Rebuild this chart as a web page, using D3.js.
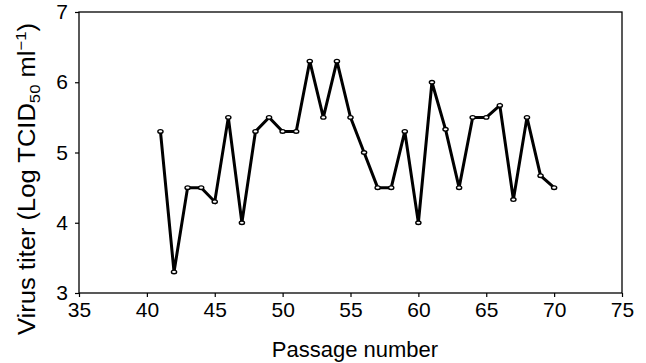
<!DOCTYPE html>
<html>
<head>
<meta charset="utf-8">
<script src="https://cdn.jsdelivr.net/npm/d3@7"></script>
<style>
  body { margin: 0; background: #fff; }
  text { font-family: "Liberation Sans", Arial, Helvetica, sans-serif; fill: #000; }
</style>
</head>
<body>
<div id="chart"></div>
<script>
// passage numbers and virus titers
var passages = [41, 42, 43, 44, 45, 46, 47, 48, 49, 50,
                51, 52, 53, 54, 55, 56, 57, 58, 59, 60,
                61, 62, 63, 64, 65, 66, 67, 68, 69, 70];
var titers = [5.3, 3.3, 4.5, 4.5, 4.3, 5.5, 4.0, 5.3, 5.5, 5.3,
              5.3, 6.3, 5.5, 6.3, 5.5, 5.0, 4.5, 4.5, 5.3, 4.0,
              6.0, 5.33, 4.5, 5.5, 5.5, 5.67, 4.33, 5.5, 4.67, 4.5];
var xTicks = [35, 40, 45, 50, 55, 60, 65, 70, 75];
var yTicks = [3, 4, 5, 6, 7];

var W = 646, H = 363;
var margin = {top: 12, right: 24, bottom: 70, left: 79};
var width = W - margin.left - margin.right;
var height = H - margin.top - margin.bottom;

var svg = d3.select("#chart").append("svg")
    .attr("width", W)
    .attr("height", H);

var g = svg.append("g")
    .attr("transform", "translate(" + margin.left + "," + margin.top + ")");

var x = d3.scaleLinear().domain([35, 75]).range([0, width]);
var y = d3.scaleLinear().domain([3, 7]).range([height, 0]);

// frame
g.append("rect")
    .attr("x", 0).attr("y", 0)
    .attr("width", width).attr("height", height)
    .attr("fill", "none")
    .attr("stroke", "#000")
    .attr("stroke-width", 1.3);

var xAxis = g.append("g")
    .attr("transform", "translate(0," + height + ")")
    .call(d3.axisBottom(x).tickValues(xTicks).tickFormat(d3.format("d")).tickSize(4).tickPadding(5));

var yAxis = g.append("g")
    .call(d3.axisLeft(y).tickValues(yTicks).tickFormat(d3.format("d")).tickSize(4).tickPadding(7));

[xAxis, yAxis].forEach(function(a) {
  a.select(".domain").remove();
  a.selectAll(".tick line").attr("stroke", "#000").attr("stroke-width", 1.2);
  a.selectAll(".tick text").attr("font-size", "21px");
});

var line = d3.line()
    .x(function(d, i) { return x(passages[i]); })
    .y(function(d) { return y(d); });

g.append("path")
    .datum(titers)
    .attr("fill", "none")
    .attr("stroke", "#000")
    .attr("stroke-width", 3)
    .attr("stroke-linejoin", "miter")
    .attr("d", line);

g.selectAll(".pt")
    .data(titers)
    .enter()
    .append("ellipse")
    .attr("class", "pt")
    .attr("cx", function(d, i) { return x(passages[i]); })
    .attr("cy", function(d) { return y(d); })
    .attr("rx", 2.6)
    .attr("ry", 1.8)
    .attr("fill", "#fff")
    .attr("stroke", "#000")
    .attr("stroke-width", 1.4);

// axis titles
svg.append("text")
    .attr("x", 355)
    .attr("y", 357)
    .attr("text-anchor", "middle")
    .attr("font-size", "22px")
    .text("Passage number");

var yt = svg.append("text")
    .attr("transform", "translate(35,179) rotate(-90)")
    .attr("text-anchor", "middle")
    .attr("font-size", "23px")
    .attr("textLength", 312)
    .attr("lengthAdjust", "spacingAndGlyphs");
yt.append("tspan").text("Virus titer (Log TCID");
yt.append("tspan").attr("font-size", "15px").attr("dy", 5).text("50");
yt.append("tspan").attr("dy", -5).text(" ml");
yt.append("tspan").attr("font-size", "15px").attr("dy", -9).text("\u22121");
yt.append("tspan").attr("dy", 9).text(")");
</script>
</body>
</html>
